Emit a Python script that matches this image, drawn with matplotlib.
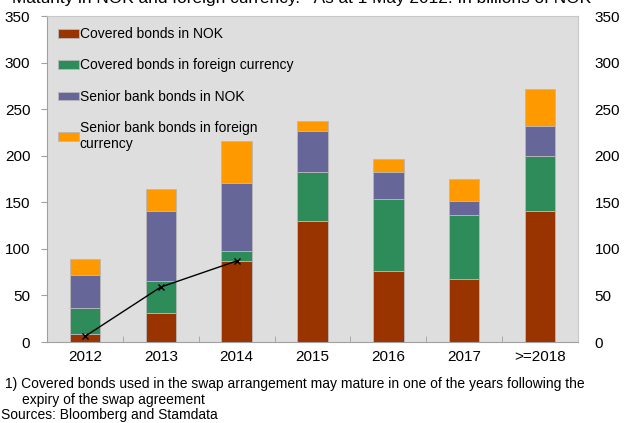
import matplotlib
matplotlib.use("Agg")
import matplotlib.pyplot as plt
import numpy as np

plt.rcParams['font.family'] = ['Liberation Sans', 'DejaVu Sans']

categories = ["2012", "2013", "2014", "2015", "2016", "2017", ">=2018"]
covered_nok = [9, 31, 87, 130, 76, 68, 141]
covered_fx = [27, 34, 11, 52, 78, 68, 59]
senior_nok = [36, 76, 73, 45, 28, 15, 32]
senior_fx = [17, 23, 45, 10, 15, 24, 40]
swap_line_cats = ["2012", "2013", "2014"]
swap_line_vals = [6, 59, 87]

series = [
    ("Covered bonds in NOK", covered_nok, "#993300"),
    ("Covered bonds in foreign currency", covered_fx, "#2E8B5A"),
    ("Senior bank bonds in NOK", senior_nok, "#666699"),
    ("Senior bank bonds in foreign\ncurrency", senior_fx, "#FF9900"),
]

fig = plt.figure(figsize=(6.25, 4.23), dpi=100)
ax = fig.add_axes([47/625, 1 - 342/423, (578-47)/625, (342-16)/423])
ax.set_facecolor("#DEDEDE")

x = np.arange(len(categories))
bottom = np.zeros(len(categories))
for label, vals, col in series:
    ax.bar(x, vals, width=0.4, bottom=bottom, color=col, edgecolor="#B8B8B8",
           linewidth=0.6, label=label, zorder=2)
    bottom += np.array(vals)

lx = [categories.index(c) for c in swap_line_cats]
ax.plot(lx, swap_line_vals, color="black", lw=1.0, marker="x", ms=4, mew=1.0, zorder=3)

ax.set_xlim(-0.5, len(categories) - 0.5)
ax.set_ylim(0, 350)
ax.set_yticks(range(0, 351, 50))
ax.set_xticks(x)
ax.set_xticklabels(categories, fontsize=11)
ax.tick_params(axis='x', which='major', length=0, pad=6)
ax.set_xticks(np.arange(0.5, len(categories) - 0.5, 1), minor=True)
ax.tick_params(axis='x', which='minor', direction='in', length=4, color="#A0A0A0")
ax.tick_params(axis='y', direction='out', length=4, color="#A0A0A0", labelsize=11, pad=8)
for s in ["top", "right"]:
    ax.spines[s].set_color("#C8C8C8")
for s in ["left", "bottom"]:
    ax.spines[s].set_color("#A0A0A0")

ax2 = ax.twinx()
ax2.set_ylim(0, 350)
ax2.set_yticks(range(0, 351, 50))
ax2.tick_params(axis='y', length=0, labelsize=11, pad=12)
for s in ax2.spines.values():
    s.set_visible(False)

leg = ax.legend(loc="upper left", frameon=False, fontsize=10, handlelength=1.5,
                handleheight=0.6, handletextpad=0.05, labelspacing=1.25,
                bbox_to_anchor=(0.0, 1.0), borderaxespad=0.4)

fig.text(12/625, 1 - 3.5/423, "Maturity in NOK and foreign currency.\u00b9\u207e As at 1 May 2012. In billions of NOK",
         fontsize=12.4, va="baseline", ha="left")

fig.text(5/625, 1 - 384/423, "1) Covered bonds used in the swap arrangement may mature in one of the years following the",
         fontsize=10, va="center")
fig.text(22/625, 1 - 400/423, "expiry of the swap agreement", fontsize=10, va="center")
fig.text(0.002, 1 - 415/423, "Sources: Bloomberg and Stamdata", fontsize=10, va="center")

fig.savefig("out.png", dpi=100)
